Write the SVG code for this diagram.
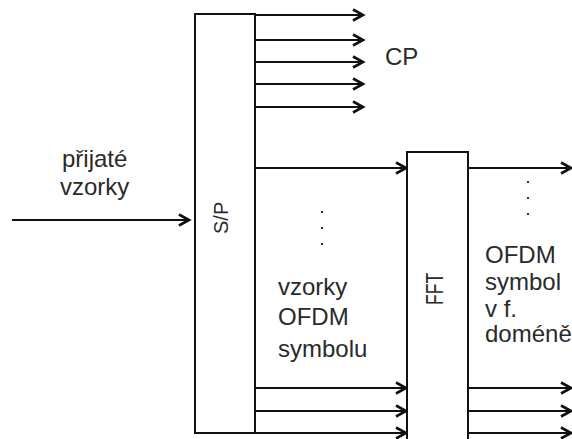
<svg xmlns="http://www.w3.org/2000/svg" width="572" height="439" viewBox="0 0 572 439">
<defs>
<marker id="ah" markerUnits="userSpaceOnUse" markerWidth="16" markerHeight="16" viewBox="-12 -8 16 16" refX="0" refY="0" orient="auto">
<path d="M-10,-5.5 L0,0 L-10,5.5" fill="none" stroke="#111" stroke-width="2.6" stroke-linejoin="miter"/>
</marker>
<style>
.box{fill:#fff;stroke:#111;stroke-width:2}
.ln{stroke:#111;stroke-width:2;fill:none}
.ar{stroke:#111;stroke-width:2;fill:none;marker-end:url(#ah)}
.t{font-family:"Liberation Sans",Arial,sans-serif;font-size:24px;fill:#2a2a2a}
.dot{fill:#333}
</style>
</defs>
<rect width="572" height="439" fill="#fff"/>
<g id="connectors">
<line class="ar" x1="12" y1="220" x2="189" y2="220"/>
<line class="ar" x1="255" y1="15" x2="363" y2="15"/>
<line class="ar" x1="255" y1="40" x2="363" y2="40"/>
<line class="ar" x1="255" y1="62" x2="363" y2="62"/>
<line class="ar" x1="255" y1="84" x2="363" y2="84"/>
<line class="ar" x1="255" y1="107" x2="363" y2="107"/>
<line class="ar" x1="255" y1="168" x2="406" y2="168"/>
<line class="ar" x1="255" y1="388" x2="406" y2="388"/>
<line class="ar" x1="255" y1="411" x2="406" y2="411"/>
<line class="ar" x1="195" y1="433" x2="406" y2="433"/>
<line class="ar" x1="468" y1="168" x2="571" y2="168"/>
<line class="ar" x1="468" y1="388" x2="571" y2="388"/>
<line class="ar" x1="468" y1="411" x2="571" y2="411"/>
<line class="ar" x1="468" y1="433" x2="571" y2="433"/>
</g>
<g id="sp">
<rect class="box" x="195" y="14" width="60" height="419"/>
<text class="t" style="font-size:20px" transform="translate(228,234) rotate(-90)">S/P</text>
</g>
<g id="fft">
<path class="box" d="M407,441 L407,152 L468,152 L468,441"/>
<text class="t" transform="translate(443,305) rotate(-90) scale(0.73,1)">FFT</text>
</g>
<g id="labels">
<text class="t" x="62" y="167">přijaté</text>
<text class="t" x="60" y="195">vzorky</text>
<text class="t" x="385" y="65">CP</text>
<text class="t" x="278" y="295">vzorky</text>
<text class="t" x="278" y="325">OFDM</text>
<text class="t" x="278" y="357">symbolu</text>
<text class="t" x="485" y="263">OFDM</text>
<text class="t" x="485" y="290">symbol</text>
<text class="t" x="485" y="317">v f.</text>
<text class="t" x="485" y="342">doméně</text>
</g>
<g id="dots">
<rect class="dot" x="321" y="211" width="2" height="2"/>
<rect class="dot" x="321" y="227" width="2" height="2"/>
<rect class="dot" x="321" y="243" width="2" height="2"/>
<rect class="dot" x="527" y="181" width="2" height="2"/>
<rect class="dot" x="527" y="197" width="2" height="2"/>
<rect class="dot" x="527" y="213" width="2" height="2"/>
</g>
</svg>
